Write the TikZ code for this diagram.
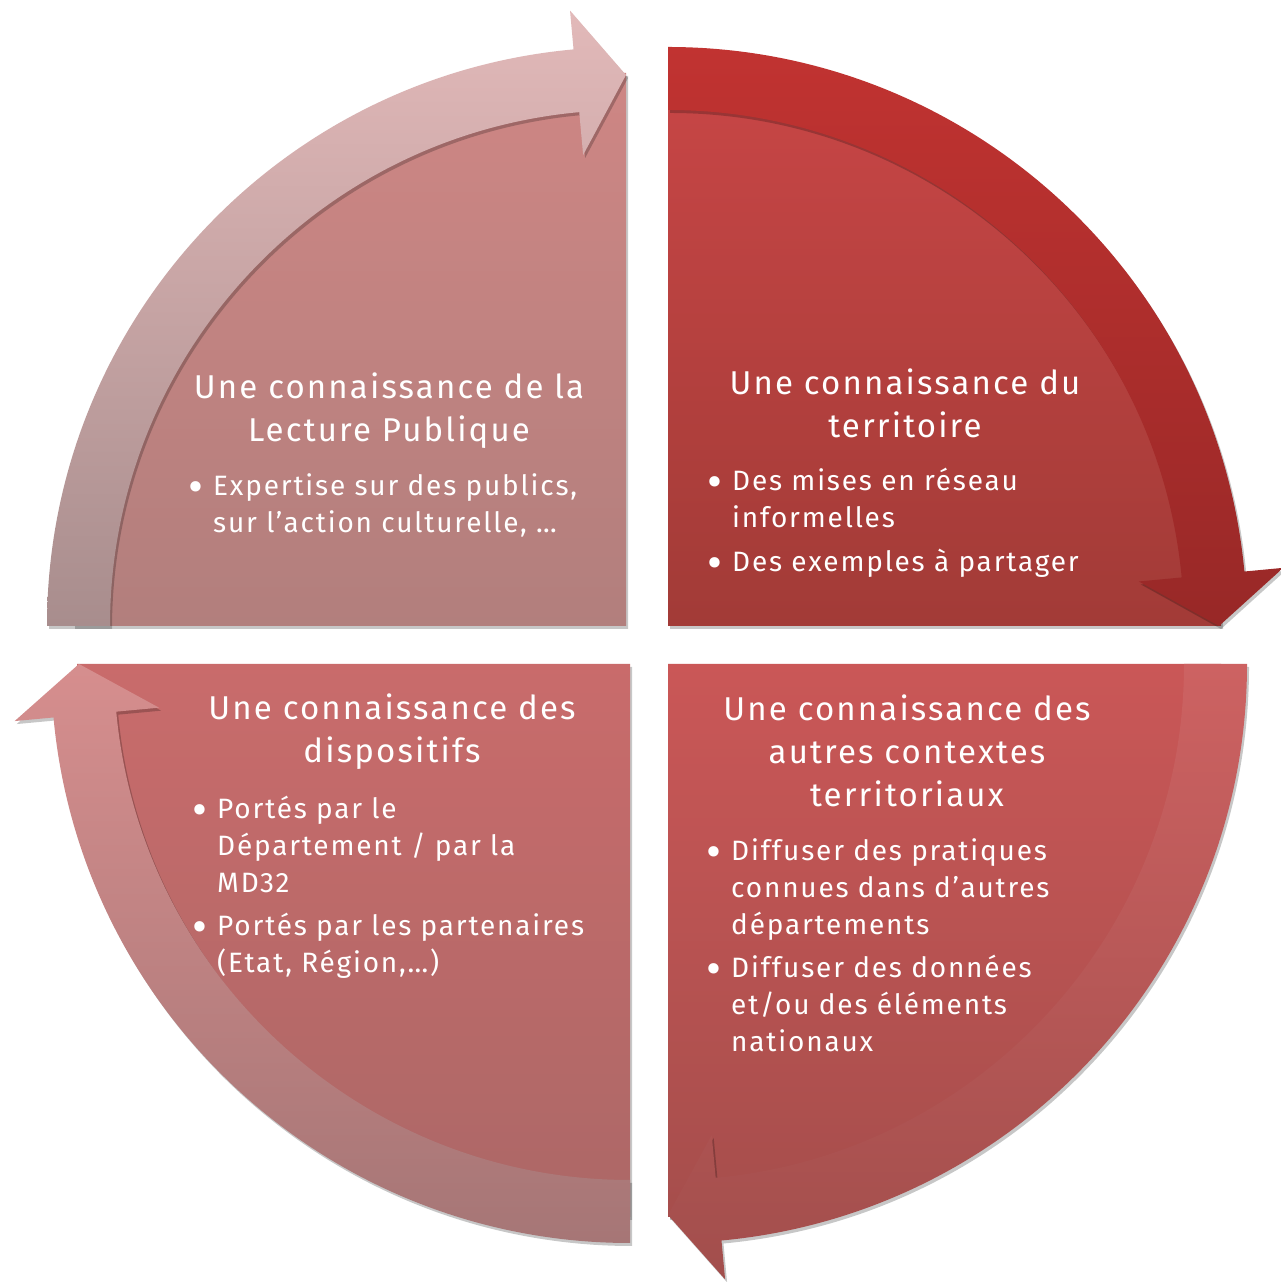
\documentclass[tikz,border=0pt]{standalone}
\usepackage{fontspec}
\setmainfont{Fira Sans}[LetterSpace=6.5]
\usetikzlibrary{shadows}
\definecolor{tlPieT}{HTML}{CE8684}
\definecolor{tlPieB}{HTML}{B27F7D}
\definecolor{tlArrT}{HTML}{E2B9B9}
\definecolor{tlArrB}{HTML}{A88D8D}
\definecolor{trPieT}{HTML}{C84646}
\definecolor{trPieB}{HTML}{A23B37}
\definecolor{trArrT}{HTML}{C13331}
\definecolor{trArrB}{HTML}{982827}
\definecolor{brPieT}{HTML}{CA5757}
\definecolor{brPieB}{HTML}{A64E4C}
\definecolor{brArrT}{HTML}{CD6262}
\definecolor{brArrB}{HTML}{A24E4C}
\definecolor{blPieT}{HTML}{C96B6B}
\definecolor{blPieB}{HTML}{AC6867}
\definecolor{blArrT}{HTML}{D68E8E}
\definecolor{blArrB}{HTML}{A67676}
\tikzset{
  shadowed/.style={drop shadow={shadow xshift=2pt,shadow yshift=-3pt,opacity=0.22,fill=black}},
  headtxt/.style={text=white,font=\fontsize{33}{43}\selectfont,align=center,inner sep=0pt,anchor=base},
  bultxt/.style={text=white,font=\fontsize{28}{37}\selectfont,align=left,inner sep=0pt,anchor=base west},
}
\newcommand{\bulmark}{\llap{\raisebox{-7pt}{\fontsize{46}{46}\selectfont\textbullet}\hskip 10pt}}
\begin{document}
\begin{tikzpicture}[x=1pt,y=1pt]
\fill[white] (0,0) rectangle (1280,1282);
\useasboundingbox (0,0) rectangle (1280,1282);

% ---- top left quadrant
\begin{scope}[shift={(626,656)}]
  \path[shadowed,top color=tlPieT,bottom color=tlPieB]
    (0,0) -- (180:553) arc[start angle=180,end angle=90,radius=553] -- cycle;
  \path[shadowed,top color=tlArrT,bottom color=tlArrB]
    (180:579) arc[start angle=180,end angle=95.2,radius=579]
    -- (95.2:618) -- (90:551) -- (95.2:473) -- (95.2:516)
    arc[start angle=95.2,end angle=180,radius=516] -- cycle;
\end{scope}

% ---- top right quadrant
\begin{scope}[shift={(668,656)}]
  \path[shadowed,top color=trPieT,bottom color=trPieB]
    (0,0) -- (90:553) arc[start angle=90,end angle=0,radius=553] -- cycle;
  \path[shadowed,top color=trArrT,bottom color=trArrB]
    (90:579) arc[start angle=90,end angle=5.4,radius=579]
    -- (5.4:618) -- (0:551) -- (5.4:473) -- (5.4:516)
    arc[start angle=5.4,end angle=90,radius=516] -- cycle;
\end{scope}

% ---- bottom right quadrant
\begin{scope}[shift={(668,618)}]
  \path[shadowed,top color=brPieT,bottom color=brPieB]
    (0,0) -- (0:553) arc[start angle=0,end angle=-90,radius=553] -- cycle;
  \path[shadowed,top color=brArrT,bottom color=brArrB]
    (0:579) arc[start angle=0,end angle=-84.7,radius=579]
    -- (-84.7:618) -- (-90:551) -- (-84.7:473) -- (-84.7:516)
    arc[start angle=-84.7,end angle=0,radius=516] -- cycle;
\end{scope}

% ---- bottom left quadrant
\begin{scope}[shift={(630,618)}]
  \path[shadowed,top color=blPieT,bottom color=blPieB]
    (0,0) -- (270:553) arc[start angle=270,end angle=180,radius=553] -- cycle;
  \path[shadowed,top color=blArrT,bottom color=blArrB]
    (270:579) arc[start angle=270,end angle=185.3,radius=579]
    -- (185.3:618) -- (180:551) -- (185.3:473) -- (185.3:516)
    arc[start angle=185.3,end angle=270,radius=516] -- cycle;
\end{scope}

% ---- texts (anchor = baseline of the last line)
\node[headtxt] (h1) at (389,840) {Une connaissance de la\\Lecture Publique};
\node[bultxt] (b11) at (213,749) {\bulmark Expertise sur des publics,\\sur l’action culturelle, …};

\node[headtxt] (h2) at (905,844) {Une connaissance du\\territoire};
\node[bultxt] (b21) at (732,754) {\bulmark Des mises en réseau\\informelles};
\node[bultxt] (b22) at (732,710) {\bulmark Des exemples à partager};

\node[headtxt] (h3) at (907,475) {Une connaissance des\\autres contextes\\territoriaux};
\node[bultxt] (b31) at (731,347) {\bulmark Diffuser des pratiques\\connues dans d’autres\\départements};
\node[bultxt] (b32) at (731,230) {\bulmark Diffuser des données\\et/ou des éléments\\nationaux};

\node[headtxt] (h4) at (392,519) {Une connaissance des\\dispositifs};
\node[bultxt] (b41) at (217,389) {\bulmark Portés par le\\Département / par la\\MD32};
\node[bultxt] (b42) at (217,309) {\bulmark Portés par les partenaires\\(Etat, Région,…)};
\end{tikzpicture}
\end{document}
